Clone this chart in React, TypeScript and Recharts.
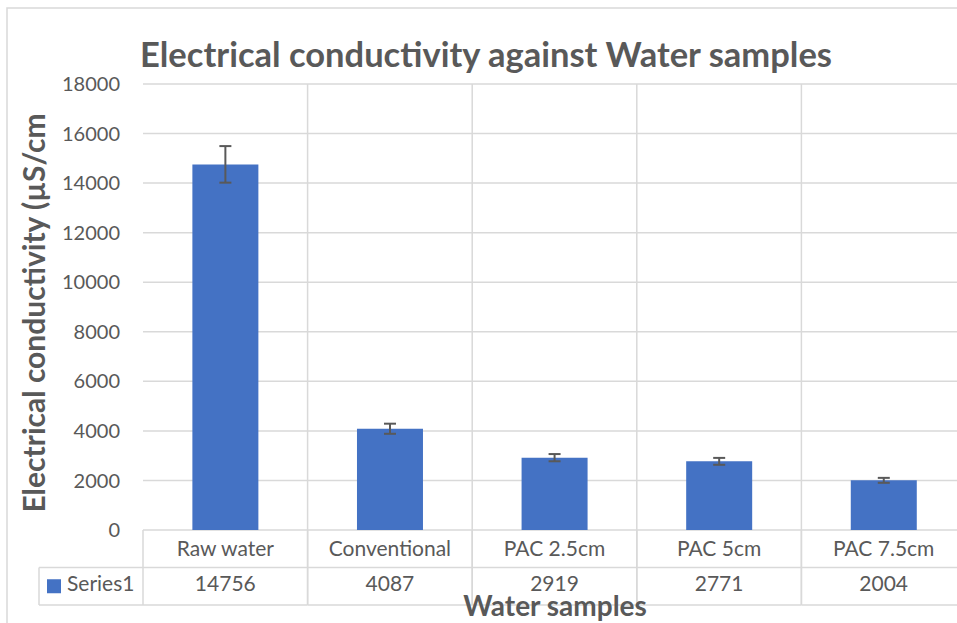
import React from 'react';
import { BarChart, Bar, XAxis, YAxis, CartesianGrid, ErrorBar } from 'recharts';

// chart values
const categories = ['Raw water', 'Conventional', 'PAC 2.5cm', 'PAC 5cm', 'PAC 7.5cm'];
const conductivity = [14756, 4087, 2919, 2771, 2004];
const errorValues = [738, 204, 146, 139, 100];
const yTicks = [0, 2000, 4000, 6000, 8000, 10000, 12000, 14000, 16000, 18000];
const seriesName = 'Series1';

const data = categories.map((name, i) => ({ name, value: conductivity[i], err: errorValues[i] }));

const FONT = 'Lato, "Open Sans", sans-serif';
const TEXT = '#595959';
const GRID = '#d9d9d9';
const BAR = '#4472C4';

const CHART_W = 975;
const CHART_H = 623;
const MARGIN = { top: 84, right: 9, bottom: 18, left: 0 };
const Y_AXIS_W = 143;
const X_AXIS_H = 75;
const PLOT_W = CHART_W - MARGIN.left - MARGIN.right - Y_AXIS_W;
const BAND = PLOT_W / categories.length;
const ROW_H = 37.5;
const TABLE_FONT = 21;

// data table drawn under the plot: category row + value row
const TableTick = (props: any) => {
    const { x, y, payload } = props;
    const i = payload.index;
    const left = x - BAND / 2;
    const right = x + BAND / 2;
    const top = y;
    return (
        <g>
            <line x1={left} y1={top} x2={left} y2={top + ROW_H * 2} stroke={GRID} strokeWidth={1.5} />
            <line x1={right} y1={top} x2={right} y2={top + ROW_H * 2} stroke={GRID} strokeWidth={1.5} />
            <line x1={left} y1={top + ROW_H} x2={right} y2={top + ROW_H} stroke={GRID} strokeWidth={1.5} />
            <line x1={left} y1={top + ROW_H * 2} x2={right} y2={top + ROW_H * 2} stroke={GRID} strokeWidth={1.5} />
            <text x={x} y={top + ROW_H / 2 + 7} textAnchor="middle" fill={TEXT} fontSize={TABLE_FONT} fontFamily={FONT}>
                {payload.value}
            </text>
            <text x={x} y={top + ROW_H * 1.5 + 5} textAnchor="middle" fill={TEXT} fontSize={TABLE_FONT} fontFamily={FONT}>
                {conductivity[i]}
            </text>
            {i === 0 && (
                <g>
                    <line x1={39} y1={top + ROW_H} x2={left} y2={top + ROW_H} stroke={GRID} strokeWidth={1.5} />
                    <line x1={39} y1={top + ROW_H * 2} x2={left} y2={top + ROW_H * 2} stroke={GRID} strokeWidth={1.5} />
                    <line x1={39} y1={top + ROW_H} x2={39} y2={top + ROW_H * 2} stroke={GRID} strokeWidth={1.5} />
                    <rect x={47} y={top + ROW_H * 1.5 - 7} width={14} height={14} fill={BAR} />
                    <text x={67} y={top + ROW_H * 1.5 + 5} fill={TEXT} fontSize={TABLE_FONT} fontFamily={FONT}>
                        {seriesName}
                    </text>
                </g>
            )}
        </g>
    );
};

export default function App() {
    return (
        <div style={{ position: 'absolute', left: 0, top: 0, width: 957, height: 623, overflow: 'hidden', background: '#fff' }}>
            <BarChart width={CHART_W} height={CHART_H} data={data} margin={MARGIN} barCategoryGap="30%">
                <CartesianGrid
                    stroke={GRID}
                    strokeWidth={1.5}
                    verticalCoordinatesGenerator={({ offset }: any) =>
                        categories.map((_, i) => offset.left + ((i + 1) * offset.width) / categories.length)
                    }
                />
                <XAxis
                    dataKey="name"
                    height={X_AXIS_H}
                    axisLine={false}
                    tickLine={false}
                    tickSize={0}
                    tickMargin={0}
                    interval={0}
                    tick={<TableTick />}
                />
                <YAxis
                    width={Y_AXIS_W}
                    domain={[0, 18000]}
                    ticks={yTicks}
                    axisLine={false}
                    tickLine={false}
                    tickSize={0}
                    tickMargin={23}
                    tick={{ fill: TEXT, fontSize: 20, fontFamily: FONT }}
                />
                <Bar dataKey="value" fill={BAR} isAnimationActive={false}>
                    <ErrorBar dataKey="err" width={6} stroke="#595959" strokeWidth={2} direction="y" />
                </Bar>
            </BarChart>
            <svg width={957} height={623} style={{ position: 'absolute', left: 0, top: 0, pointerEvents: 'none' }}>
                <rect x={7} y={8} width={1000} height={700} fill="none" stroke={GRID} strokeWidth={1.5} />
                <text x={486} y={67} textAnchor="middle" fill={TEXT} fontSize={34.5} fontWeight="bold" fontFamily={FONT}>
                    Electrical conductivity against Water samples
                </text>
                <text
                    x={0}
                    y={0}
                    transform="translate(45, 313) rotate(-90)"
                    textAnchor="middle"
                    fill={TEXT}
                    fontSize={30}
                    fontWeight="bold"
                    fontFamily={FONT}
                >
                    Electrical conductivity (µS/cm
                </text>
                <text x={555} y={616} textAnchor="middle" fill={TEXT} fontSize={28} fontWeight="bold" fontFamily={FONT}>
                    Water samples
                </text>
            </svg>
        </div>
    );
}
